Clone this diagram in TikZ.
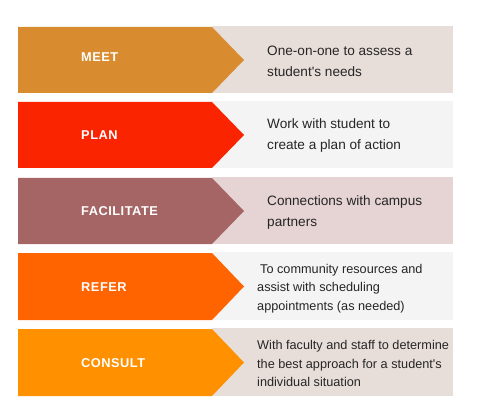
\documentclass[tikz,border=0pt]{standalone}
\usepackage{fontspec}
\setmainfont{Liberation Sans}
\usepackage{xcolor}
\usetikzlibrary{positioning}

\definecolor{meetc}{HTML}{D98C2F}
\definecolor{planc}{HTML}{FA2500}
\definecolor{facic}{HTML}{A66565}
\definecolor{referc}{HTML}{FF6400}
\definecolor{consc}{HTML}{FF9000}
\definecolor{warmbg}{HTML}{E8DED9}
\definecolor{greybg}{HTML}{F4F4F4}
\definecolor{rosebg}{HTML}{E6D3D3}
\definecolor{desctext}{HTML}{262626}

\begin{document}
\begin{tikzpicture}[x=1pt, y=-1pt,
    lbl/.style={anchor=west, inner sep=0pt, text=white,
                font=\fontsize{12.8}{12.8}\selectfont\bfseries\addfontfeature{LetterSpace=4}},
    desc/.style={anchor=west, align=left, inner sep=0pt, text=desctext,
                font=\fontsize{13.6}{21}\selectfont},
    descsm/.style={desc, font=\fontsize{12.7}{18.5}\selectfont}
]
\useasboundingbox (0,0) rectangle (478,419);

% meet
\fill[warmbg] (212,26) rectangle (453,93);
\fill[meetc] (18,27) -- (212,27) -- (244,60) -- (212,93) -- (18,93) -- cycle;
\node[lbl] (meet) at (81,57) {MEET};
\node[desc] (meetdesc) at (267,61) {One-on-one to assess a\\student\textquotesingle s needs};

% plan
\fill[greybg] (212,101) rectangle (453,168);
\fill[planc] (18,102) -- (212,102) -- (244,135) -- (212,168) -- (18,168) -- cycle;
\node[lbl] (plan) at (81,135) {PLAN};
\node[desc] (plandesc) at (267,135.5) {Work with student to\\create a plan of action};

% facilitate
\fill[rosebg] (212,177) rectangle (453,244);
\fill[facic] (18,178) -- (212,178) -- (244,211) -- (212,244) -- (18,244) -- cycle;
\node[lbl] (facilitate) at (81,211) {FACILITATE};
\node[desc] (facilitatedesc) at (267,212) {Connections with campus\\partners};

% refer
\fill[greybg] (212,252) rectangle (453,320);
\fill[referc] (18,253) -- (212,253) -- (244,286.5) -- (212,320) -- (18,320) -- cycle;
\node[lbl] (refer) at (81,287) {REFER};
\node[descsm] (referdesc) at (257,288.5) {\hspace{3pt}To community resources and\\assist with scheduling\\appointments (as needed)};

% consult
\fill[warmbg] (212,328) rectangle (453,396);
\fill[consc] (18,329) -- (212,329) -- (244,362.5) -- (212,396) -- (18,396) -- cycle;
\node[lbl] (consult) at (81,363) {CONSULT};
\node[descsm] (consultdesc) at (257,363.5) {With faculty and staff to determine\\the best approach for a student\textquotesingle s\\individual situation};
\end{tikzpicture}
\end{document}
